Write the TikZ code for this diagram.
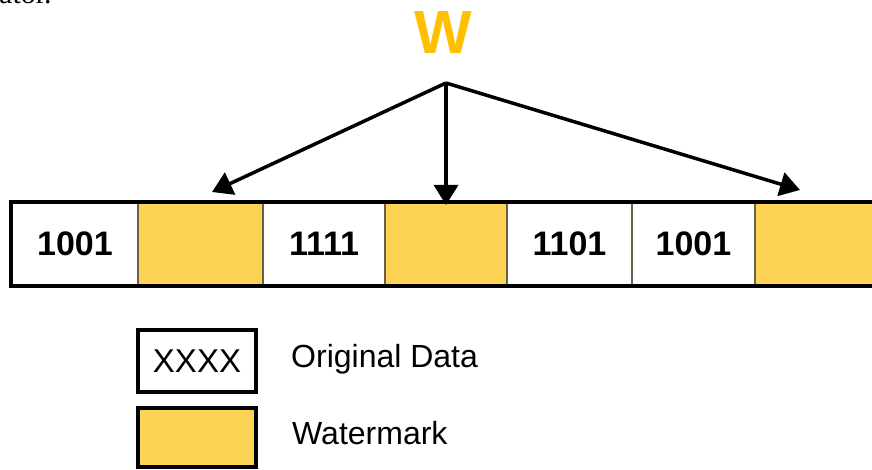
\documentclass[tikz,border=0pt]{standalone}
\usepackage{fontspec}
\setmainfont{Liberation Sans}
\newfontfamily\serifface{Liberation Serif}
\usetikzlibrary{arrows.meta}

\definecolor{wmyellow}{RGB}{252,211,82}
\definecolor{wgold}{RGB}{255,192,0}
\definecolor{celldiv}{RGB}{105,95,75}

\tikzset{
  cell/.style={draw=celldiv, line width=2pt, minimum height=82pt, inner sep=0pt,
               font=\bfseries\fontsize{34}{40}\selectfont},
  datacell/.style={cell, fill=white},
  markcell/.style={cell, fill=wmyellow},
  legendbox/.style={draw=black, line width=4pt, minimum width=118pt, inner sep=0pt,
                    font=\fontsize{33}{38}\selectfont},
  legendtext/.style={anchor=west, inner sep=0pt, font=\fontsize{32}{38}\selectfont},
  pointer/.style={line width=3.5pt, -{Triangle[length=20pt,width=24pt]}}
}

\begin{document}
\begin{tikzpicture}[x=1pt,y=-1pt]
\useasboundingbox (0,0) rectangle (872,470);
\clip (0,0) rectangle (872,470);

% tail of the preceding line of text
\node[anchor=base west, inner sep=0pt, font=\serifface\fontsize{30}{30}\selectfont]
  (prev) at (-1,4) {ator.};

% watermark symbol
\node[inner sep=0pt, text=wgold, font=\bfseries\fontsize{61}{61}\selectfont]
  (w) at (443,33) {W};

% data stream: original blocks and embedded watermark blocks
\node[datacell, minimum width=126pt] (c1) at (75,244)    {1001};
\node[markcell, minimum width=125pt] (c2) at (200.5,244) {};
\node[datacell, minimum width=122pt] (c3) at (324,244)   {1111};
\node[markcell, minimum width=122pt] (c4) at (446,244)   {};
\node[datacell, minimum width=125pt] (c5) at (569.5,244) {1101};
\node[datacell, minimum width=123pt] (c6) at (693.5,244) {1001};
\node[markcell, minimum width=125pt] (c7) at (817.5,244) {};
\draw[line width=4.5pt] (c1.north west) rectangle (c7.south east);

% insertion arrows
\coordinate (apex) at (446,83);
\coordinate (lt) at (212,192);
\coordinate (rt) at (800,190);
\draw[pointer] (apex) -- (lt);
\draw[pointer] (apex) -- ([yshift=-3pt]c4.north);
\draw[pointer] (apex) -- (rt);

% legend
\node[legendbox, fill=white, minimum height=62pt] (k1) at (197,361) {XXXX};
\node[legendtext] (k1t) at (291,359) {Original Data};
\node[legendbox, fill=wmyellow, minimum height=59pt] (k2) at (197,437.5) {};
\node[legendtext] (k2t) at (292,433) {Watermark};
\end{tikzpicture}
\end{document}
